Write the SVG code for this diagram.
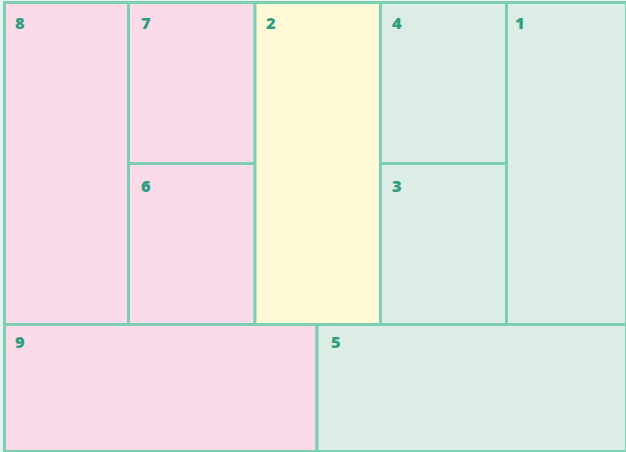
<svg xmlns="http://www.w3.org/2000/svg" width="626" height="452" viewBox="0 0 626 452">
<style>
.b{stroke:#7dcfb4;stroke-width:3}
.p{fill:#fbdbea}
.y{fill:#fefad8}
.g{fill:#dcede6}
text{font-family:"Open Sans","Liberation Sans",sans-serif;font-weight:800;font-size:16.5px;fill:#2f9e7f}
</style>
<rect x="0" y="0" width="626" height="452" fill="#e6f3ee"/>
<g id="n8"><rect class="p b" x="4.5" y="2.5" width="124" height="322"/><text x="15" y="29">8</text></g>
<g id="n7"><rect class="p b" x="128.5" y="2.5" width="126.5" height="161"/><text x="141" y="29">7</text></g>
<g id="n6"><rect class="p b" x="128.5" y="163.5" width="126.5" height="161"/><text x="141" y="192">6</text></g>
<g id="n2"><rect class="y b" x="255" y="2.5" width="125.5" height="322"/><text x="266" y="29">2</text></g>
<g id="n4"><rect class="g b" x="380.5" y="2.5" width="126" height="161"/><text x="392" y="29">4</text></g>
<g id="n3"><rect class="g b" x="380.5" y="163.5" width="126" height="161"/><text x="392" y="192">3</text></g>
<g id="n1"><rect class="g b" x="506.5" y="2.5" width="120" height="322"/><text x="515" y="29">1</text></g>
<g id="n9"><rect class="p b" x="4.5" y="324.5" width="312.5" height="127"/><text x="15" y="348">9</text></g>
<g id="n5"><rect class="g b" x="317" y="324.5" width="309.5" height="127"/><text x="331" y="348">5</text></g>
<g id="connectors"></g>
</svg>
